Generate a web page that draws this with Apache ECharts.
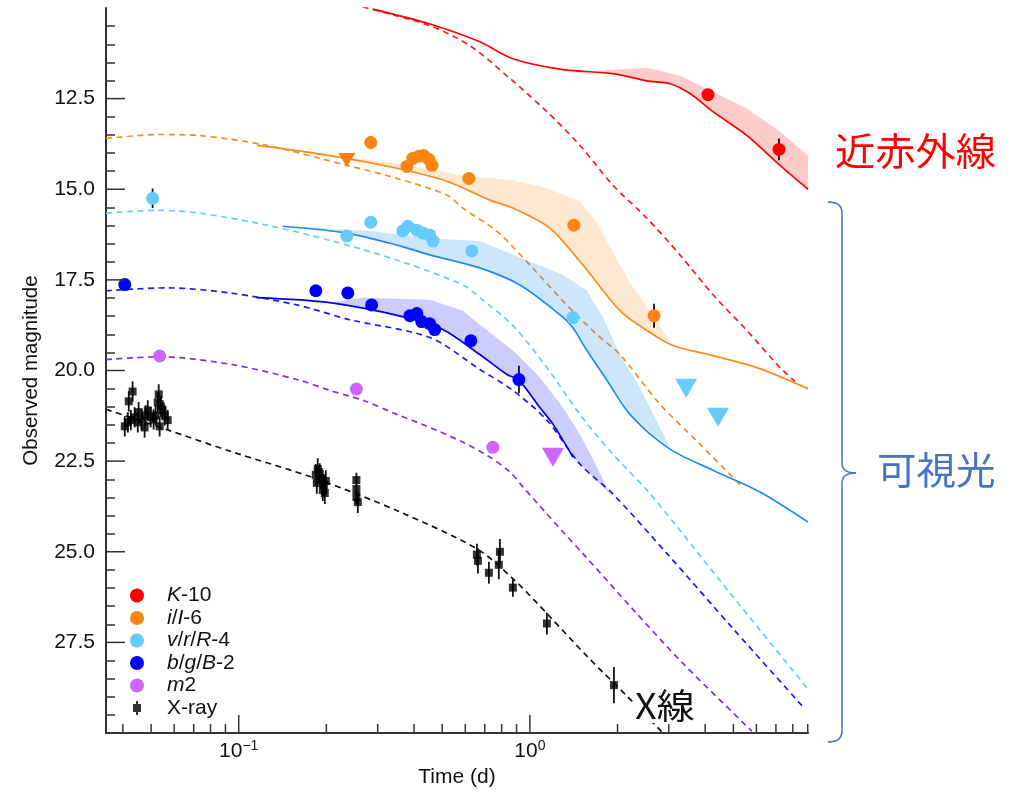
<!DOCTYPE html>
<html><head><meta charset="utf-8">
<script src="https://cdn.jsdelivr.net/npm/echarts@6/dist/echarts.min.js"></script>
<style>html,body{margin:0;padding:0;background:#fff}#c{width:1018px;height:793px}</style>
</head><body><div id="c"></div>
<script>
// ---------- DATA (time in days, observed magnitude, error) ----------
const kPoints = [[4.09,12.39,0.10],[7.17,13.90,0.30]];
const iPoints = [[0.284,13.71,0.18],[0.378,14.37,0.1],[0.396,14.15,0.1],[0.416,14.09,0.1],[0.432,14.07,0.1],[0.450,14.18,0.1],[0.461,14.34,0.1],[0.617,14.70,0.1],[1.416,15.99,0.1],[2.67,18.49,0.33]];
const iLimits = [[0.235,14.19]];
const vPoints = [[0.0506,15.25,0.27],[0.235,16.29,0.12],[0.284,15.91,0.15],[0.366,16.15,0.1],[0.381,16.02,0.1],[0.409,16.13,0.1],[0.429,16.21,0.1],[0.453,16.26,0.1],[0.465,16.43,0.1],[0.632,16.70,0.1],[1.405,18.54,0.1]];
const vLimits = [[3.44,20.49],[4.43,21.29]];
const bPoints = [[0.0406,17.63,0.15],[0.184,17.80,0.1],[0.237,17.86,0.1],[0.286,18.19,0.1],[0.387,18.49,0.1],[0.409,18.43,0.1],[0.425,18.65,0.1],[0.453,18.71,0.1],[0.471,18.87,0.1],[0.627,19.18,0.1],[0.917,20.25,0.38]];
const mPoints = [[0.0535,19.60,0.1],[0.2536,20.51,0.1],[0.746,22.12,0.13]];
const mLimits = [[1.2,22.39]];
const xrayPoints = [
 [0.0406,21.54,0.28],[0.0416,21.43,0.28],[0.0419,20.85,0.28],[0.0432,20.58,0.28],[0.0426,21.37,0.28],[0.0439,21.29,0.28],[0.0450,21.43,0.28],[0.0453,21.15,0.28],[0.0464,21.35,0.28],[0.0475,21.57,0.28],[0.0479,21.24,0.28],[0.0487,21.10,0.28],[0.0498,21.29,0.28],[0.0510,21.35,0.28],[0.0518,21.24,0.28],[0.0527,20.88,0.28],[0.0531,20.66,0.28],[0.0540,20.99,0.28],[0.0535,21.54,0.28],[0.0548,21.10,0.28],[0.0557,21.24,0.28],[0.0570,21.37,0.28],
 [0.1839,22.88,0.3],[0.1868,22.72,0.3],[0.1898,22.86,0.3],[0.1854,23.10,0.3],[0.1929,22.99,0.3],[0.1960,23.16,0.3],[0.1991,23.05,0.3],[0.1944,23.30,0.3],[0.1975,23.38,0.3],
 [0.2536,23.02,0.2],[0.2536,23.27,0.2],[0.2536,23.49,0.2],[0.2564,23.63,0.3],
 [0.6575,25.08,0.3],[0.663,25.25,0.35],[0.723,25.58,0.3],[0.789,25.00,0.35],[0.782,25.36,0.4],[0.874,25.99,0.25],[1.144,26.98,0.3],[1.944,28.68,0.5]
];
// model curves
const kModel = [[0.2886,10.03],[0.4533,10.44],[0.6731,10.93],[0.874,11.40],[1.298,11.70],[1.929,11.81],[2.524,12.01],[3.027,12.09],[3.547,12.36],[4.255,12.86],[5.568,13.52],[7.231,14.34],[9.02,15.0]];
const kDashed = [[0.2667,9.97],[0.4533,10.49],[0.622,11.04],[0.8336,11.87],[1.144,12.86],[1.485,13.79],[1.929,14.89],[2.524,15.80],[3.277,16.81],[4.255,17.91],[5.568,18.90],[7.231,19.92],[8.141,20.30]];
const kBandHi = [[1.699,11.73],[2.524,11.65],[3.277,11.87],[4.255,12.31],[5.568,12.77],[7.231,13.41],[9.02,14.07]];
const kBandLo = [[1.699,11.77],[1.929,11.81],[2.524,12.01],[3.027,12.09],[3.547,12.36],[4.255,12.86],[5.568,13.52],[7.231,14.34],[9.02,15.0]];
const iModel = [[0.1153,13.79],[0.2055,14.07],[0.3491,14.42],[0.5185,14.78],[0.7287,15.30],[0.874,15.52],[1.171,16.07],[1.521,17.09],[2.039,18.35],[2.524,18.90],[3.099,19.31],[4.255,19.59],[6.026,19.92],[9.02,20.50]];
const iDashed = [[0.035,13.60],[0.0535,13.49],[0.0734,13.52],[0.1248,13.79],[0.235,14.34],[0.3491,14.70],[0.5185,15.16],[0.5886,15.52],[0.7703,16.16],[1.0,17.09],[1.298,18.08],[1.699,19.01],[2.039,19.56],[2.797,20.93],[3.838,22.03],[5.353,23.21]];
const iBandHi = [[0.2055,14.07],[0.357,14.29],[0.589,14.62],[0.874,14.75],[1.144,14.97],[1.485,15.33],[1.699,15.93],[2.206,17.58],[2.732,18.63],[3.027,19.23]];
const iBandLo = [[0.2055,14.07],[0.3491,14.42],[0.5185,14.78],[0.7287,15.30],[0.874,15.52],[1.171,16.07],[1.521,17.09],[2.039,18.35],[2.524,18.90],[3.027,19.23]];
const vModel = [[0.1416,16.02],[0.235,16.21],[0.3491,16.54],[0.4533,16.81],[0.6731,17.17],[0.924,17.64],[1.268,18.46],[1.405,18.82],[1.570,19.45],[1.839,20.27],[2.206,21.21],[3.027,22.17],[4.255,22.75],[6.17,23.35],[9.02,24.18]];
const vDashed = [[0.035,15.66],[0.0535,15.58],[0.0734,15.66],[0.1248,15.99],[0.2104,16.43],[0.3574,16.98],[0.5886,17.64],[0.6731,17.99],[0.874,18.76],[1.144,19.92],[1.485,21.21],[1.929,22.31],[2.524,23.30],[3.2,24.31],[4.985,26.24],[9.02,28.79]];
const vBandHi = [[0.1416,16.02],[0.282,16.15],[0.4533,16.35],[0.6731,16.43],[0.874,16.81],[1.298,17.36],[1.570,17.80],[1.782,18.54],[2.039,19.56],[2.388,20.47],[2.797,21.57],[3.05,22.17]];
const vBandLo = [[0.1416,16.02],[0.235,16.21],[0.3491,16.54],[0.4533,16.81],[0.6731,17.17],[0.924,17.64],[1.268,18.46],[1.405,18.82],[1.570,19.45],[1.839,20.27],[2.206,21.21],[3.05,22.17]];
const bModel = [[0.1153,17.99],[0.2055,18.13],[0.3778,18.54],[0.5024,18.87],[0.6731,19.56],[0.8336,20.11],[0.917,20.27],[1.082,21.02],[1.2,21.48],[1.405,22.39]];
const bDashed = [[0.035,17.80],[0.0566,17.72],[0.0931,17.86],[0.1582,18.19],[0.2407,18.60],[0.4533,19.09],[0.6731,19.97],[0.874,20.55],[1.144,21.37],[1.485,22.58],[1.929,23.41],[2.957,25.05],[4.985,27.12],[8.81,29.34]];
const bBandHi = [[0.2055,18.13],[0.2667,17.99],[0.4533,18.05],[0.5886,18.35],[0.6731,18.74],[0.874,19.45],[1.082,20.19],[1.298,21.02],[1.485,21.76],[1.699,22.66],[1.883,23.41]];
const bBandLo = [[0.2055,18.13],[0.3778,18.54],[0.5024,18.87],[0.6731,19.56],[0.8336,20.11],[0.917,20.27],[1.082,21.02],[1.2,21.48],[1.405,22.39],[1.883,23.41]];
const mDashed = [[0.035,19.70],[0.0535,19.62],[0.0954,19.84],[0.1621,20.27],[0.2055,20.55],[0.2667,20.82],[0.3491,21.21],[0.4533,21.57],[0.5886,21.98],[0.7287,22.39],[0.854,22.80],[0.9461,23.21],[1.298,24.45],[1.521,25.05],[2.259,26.59],[3.356,28.08],[5.792,29.95]];
const xrayDashed = [[0.035,21.07],[0.0561,21.62],[0.0954,22.25],[0.1854,22.99],[0.3574,23.90],[0.6575,24.92],[0.874,25.74],[1.171,26.79],[1.570,27.88],[2.154,28.98],[2.864,30.0]];
// axis ticks
const xMajorTicks = [0.1, 1];
const xMinorTicks = [0.04,0.05,0.06,0.07,0.08,0.09,0.2,0.3,0.4,0.5,0.6,0.7,0.8,0.9,2,3,4,5,6,7,8,9];
const yMajorTicks = [12.5, 15.0, 17.5, 20.0, 22.5, 25.0, 27.5];
const legendNames = ['K-10','i/I-6','v/r/R-4','b/g/B-2','m2','X-ray'];
const legendRich = {'K-10':'{i|K}-10','i/I-6':'{i|i}/{i|I}-6','v/r/R-4':'{i|v}/{i|r}/{i|R}-4','b/g/B-2':'{i|b}/{i|g}/{i|B}-2','m2':'{i|m}2','X-ray':'X-ray'};

// ---------- CHART ----------
const FONT = '"Liberation Sans", Arial, Helvetica, sans-serif';
const AX = '#333';
const X_MIN = 0.035, X_MAX = 9.02;
const Y_MIN = 10, Y_MAX = 30;
const BR = '#4472c4';
const chart = echarts.init(document.getElementById('c'), null, {renderer:'canvas'});

function lineS(data, color, dashed, width){
  return {type:'line', data:data, showSymbol:false, symbol:'none', smooth:0.3, silent:true, z:2,
    lineStyle:{color:color, width:width||1.7, type: dashed ? [6,4.5] : 'solid'}};
}
function bandS(hi, lo, color){
  return {type:'custom', silent:true, z:3, data:[hi[0]],
    renderItem:function(params, api){
      const pts = hi.map(p=>api.coord(p)).concat(lo.slice().reverse().map(p=>api.coord(p)));
      return {type:'polygon', shape:{points:pts}, style:{fill:color}};
    }};
}
function ptsS(name, pts, color){
  return {type:'scatter', name:name, data:pts.map(p=>[p[0],p[1]]), symbol:'circle', symbolSize:13, z:5, silent:true,
    itemStyle:{color:color, opacity:1}};
}
function limS(pts, color, size){
  return {type:'scatter', data:pts, symbol:'triangle', symbolRotate:180, symbolSize:size, z:5, silent:true,
    itemStyle:{color:color, opacity:1}};
}
function xTickS(vals, len){
  return {type:'custom', silent:true, z:6, clip:false, data:vals.map(v=>[v, Y_MAX]),
    renderItem:function(params, api){
      const p = api.coord([api.value(0), Y_MAX]);
      return {type:'line', shape:{x1:p[0], y1:p[1], x2:p[0], y2:p[1]-len}, style:{stroke:AX, lineWidth:1.5}};
    }};
}
function yTickS(vals, len){
  return {type:'custom', silent:true, z:6, clip:false, data:vals.map(v=>[X_MIN, v]),
    renderItem:function(params, api){
      const p = api.coord([X_MIN, api.value(1)]);
      return {type:'line', shape:{x1:p[0], y1:p[1], x2:p[0]+len, y2:p[1]}, style:{stroke:AX, lineWidth:1.5}};
    }};
}
const allErr = [].concat(kPoints,iPoints,vPoints,bPoints,mPoints,xrayPoints);
const brStyle = {stroke:BR, lineWidth:1.5, fill:null};

const option = {
  animation:false,
  backgroundColor:'#fff',
  grid:{left:106, right:210, top:8, bottom:55, containLabel:false},
  xAxis:{type:'log', logBase:10, min:X_MIN, max:X_MAX,
    axisLine:{show:true, lineStyle:{color:AX, width:2}},
    axisTick:{show:false}, minorTick:{show:false}, splitLine:{show:false}, minorSplitLine:{show:false},
    axisLabel:{margin:6, color:'#111', fontFamily:FONT,
      formatter:function(v){ const e=Math.log10(v), r=Math.round(e); if (Math.abs(e-r)>1e-6) return ''; return '{b|10}{s|'+(r<0?'\u2212'+(-r):r)+'}'; },
      rich:{b:{fontSize:21, fontFamily:FONT, color:'#111', lineHeight:24}, s:{fontSize:14, fontFamily:FONT, color:'#111', verticalAlign:'top', lineHeight:14}}},
    name:'Time (d)', nameLocation:'middle', nameGap:34, nameTextStyle:{fontSize:21, color:'#111', fontFamily:FONT}},
  yAxis:{type:'value', inverse:true, min:Y_MIN, max:Y_MAX, interval:2.5,
    axisLine:{show:true, lineStyle:{color:AX, width:2}},
    axisTick:{show:false, inside:true, length:19, lineStyle:{color:AX, width:1.5}},
    minorTick:{show:true, splitNumber:5, length:9, lineStyle:{color:AX, width:1.5}},
    splitLine:{show:false},
    axisLabel:{fontSize:21, color:'#111', margin:11, fontFamily:FONT,
      formatter:function(v){ return (v<=Y_MIN||v>=Y_MAX) ? '' : v.toFixed(1); }},
    name:'Observed magnitude', nameLocation:'middle', nameGap:64, nameTextStyle:{fontSize:20.5, color:'#111', fontFamily:FONT}},
  legend:{orient:'vertical', left:125, top:580, itemWidth:50, itemHeight:14, itemGap:1.5, selectedMode:false,
    data:legendNames.map(n => n==='X-ray' ? {name:n, icon:'path://M6,0h2v3h3v8h-3v3h-2v-3h-3v-8h3z'} : {name:n, icon:'circle'}),
    formatter:function(n){ return legendRich[n]; },
    textStyle:{fontSize:21, color:'#111', fontFamily:FONT, rich:{i:{fontStyle:'italic', fontSize:21, color:'#111', fontFamily:FONT}}}},
  graphic:[
    {type:'text', x:835, y:132, z:100, scaleX:1.06, style:{text:'近赤外線', fill:'#ff0000', font:'38px "Noto Sans CJK JP"', align:'left', verticalAlign:'top'}},
    {type:'text', x:877, y:451, z:100, scaleX:1.04, style:{text:'可視光', fill:BR, font:'38px "Noto Sans CJK JP"', align:'left', verticalAlign:'top'}},
    {type:'text', x:635, y:688, z:100, scaleX:1.08, style:{text:'X線', fill:'#111', font:'35px "Noto Sans CJK JP"', align:'left', verticalAlign:'top', backgroundColor:'#fff'}},
    {type:'bezierCurve', z:100, shape:{x1:828,y1:202,cpx1:842,cpy1:202,x2:842,y2:213}, style:brStyle},
    {type:'line', z:100, shape:{x1:842,y1:213,x2:842,y2:463}, style:brStyle},
    {type:'bezierCurve', z:100, shape:{x1:842,y1:463,cpx1:842,cpy1:473,x2:856,y2:473}, style:brStyle},
    {type:'bezierCurve', z:100, shape:{x1:856,y1:473,cpx1:842,cpy1:473,x2:842,y2:483}, style:brStyle},
    {type:'line', z:100, shape:{x1:842,y1:483,x2:842,y2:731}, style:brStyle},
    {type:'bezierCurve', z:100, shape:{x1:842,y1:731,cpx1:842,cpy1:742,x2:828,y2:742}, style:brStyle}
  ],
  series:[
    lineS(kDashed,'#ff1a1a',true), lineS(kModel,'#ff0000',false),
    lineS(iDashed,'#ff8c1a',true), lineS(iModel,'#ff8c1a',false),
    lineS(vDashed,'#66ccff',true), lineS(vModel,'#1e8cf0',false),
    lineS(bDashed,'#1a1aff',true), lineS(bModel,'#0000e6',false),
    lineS(mDashed,'#8a2be2',true),
    lineS(xrayDashed,'#111111',true),
    bandS(kBandHi,kBandLo,'rgba(255,0,0,0.2)'),
    bandS(iBandHi,iBandLo,'rgba(255,140,26,0.2)'),
    bandS(vBandHi,vBandLo,'rgba(30,140,240,0.22)'),
    bandS(bBandHi,bBandLo,'rgba(0,0,255,0.2)'),
    {type:'custom', silent:true, z:4, data:allErr,
      renderItem:function(params, api){
        const x=api.value(0), y=api.value(1), e=api.value(2);
        const a=api.coord([x,y-e]), b=api.coord([x,y+e]);
        return {type:'line', shape:{x1:a[0],y1:a[1],x2:b[0],y2:b[1]}, style:{stroke:'#111', lineWidth:1.8}};
      }},
    ptsS('K-10',kPoints,'#ff0000'),
    ptsS('i/I-6',iPoints,'#ff8412'),
    ptsS('v/r/R-4',vPoints,'#66ccff'),
    ptsS('b/g/B-2',bPoints,'#0000ff'),
    ptsS('m2',mPoints,'#cc66ff'),
    {type:'scatter', name:'X-ray', data:xrayPoints.map(p=>[p[0],p[1]]), symbol:'rect', symbolSize:8, z:5, silent:true, itemStyle:{color:'#000'}},
    limS(iLimits,'#ff7f00',[17,14]),
    limS(vLimits,'#66ccff',[22,19]),
    limS(mLimits,'#cc66ff',[22,19]),
    xTickS(xMinorTicks,9), xTickS(xMajorTicks,18), yTickS(yMajorTicks,19)
  ]
};
chart.setOption(option);
</script></body></html>
